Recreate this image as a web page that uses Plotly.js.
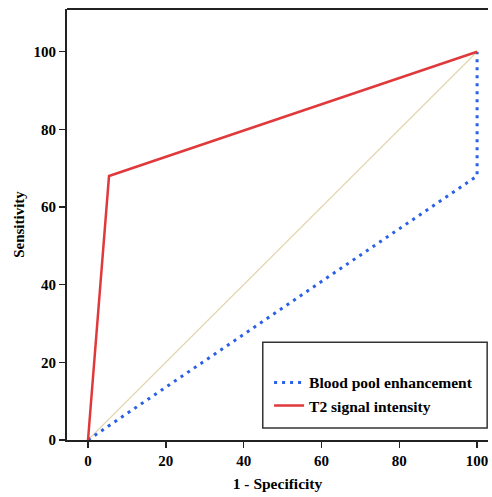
<!DOCTYPE html>
<html><head><meta charset="utf-8">
<script src="https://cdn.plot.ly/plotly-3.0.1.min.js"></script>
<style>html,body{margin:0;padding:0;background:#fff}</style>
</head><body><div id="chart" style="width:492px;height:497px"></div>
<script>
const refX = [0, 100];
const refY = [0, 100];
const bloodX = [0, 100, 100];
const bloodY = [0, 68, 100];
const t2X = [0, 5.4, 100];
const t2Y = [0, 68, 100];
const tickVals = [0, 20, 40, 60, 80, 100];

const fam = '"Liberation Serif", "Times New Roman", serif';
const traces = [
  {x: refX, y: refY, mode: 'lines', line: {color: '#e3d6ae', width: 1.2}, showlegend: false, hoverinfo: 'skip'},
  {x: bloodX, y: bloodY, mode: 'lines', name: '<b>Blood pool enhancement</b>', line: {color: '#2a5fe8', width: 3, dash: '3px,5px'}},
  {x: t2X, y: t2Y, mode: 'lines', name: '<b>T2 signal intensity</b>', line: {color: '#e0393b', width: 2.5}}
];
const layout = {
  width: 492, height: 497,
  margin: {l: 67, r: 4, t: 9, b: 57},
  paper_bgcolor: '#fff', plot_bgcolor: '#fff',
  font: {family: fam, size: 15, color: '#000'},
  showlegend: true,
  legend: {x: 0.48, y: 0.172, xref: 'paper', yref: 'paper', xanchor: 'left', yanchor: 'top',
    bgcolor: 'rgba(0,0,0,0)', font: {family: fam, size: 15.5, color: '#000'}, tracegroupgap: 0, itemwidth: 30},
  xaxis: {range: [-5.4, 102.8], tickvals: tickVals, ticktext: tickVals.map(v => '<b>' + v + '</b>'),
    showgrid: false, zeroline: false, showline: true, linecolor: '#222', linewidth: 2,
    ticks: 'outside', ticklen: 6, tickwidth: 1.5, tickcolor: '#222',
    tickfont: {family: fam, size: 15, color: '#000'},
    title: {text: '<b>1 - Specificity</b>', font: {family: fam, size: 15.5, color: '#000'}, standoff: 10}},
  yaxis: {range: [0, 111], tickvals: tickVals, ticktext: tickVals.map(v => '<b>' + v + '</b>'),
    showgrid: false, zeroline: false, showline: true, linecolor: '#222', linewidth: 2,
    ticks: 'outside', ticklen: 6, tickwidth: 1.5, tickcolor: '#222',
    tickfont: {family: fam, size: 15, color: '#000'},
    title: {text: '<b>Sensitivity</b>', font: {family: fam, size: 15, color: '#000'}, standoff: 5}},
  shapes: [
    {type: 'line', xref: 'paper', yref: 'paper', x0: 0, x1: 1, y0: 1, y1: 1, line: {color: '#222', width: 2}},
    {type: 'rect', xref: 'paper', yref: 'paper', x0: 0.465, x1: 0.998, y0: 0.028, y1: 0.227, line: {color: '#333', width: 1.5}}
  ]
};
Plotly.newPlot('chart', traces, layout, {displayModeBar: false, staticPlot: true});
</script></body></html>
